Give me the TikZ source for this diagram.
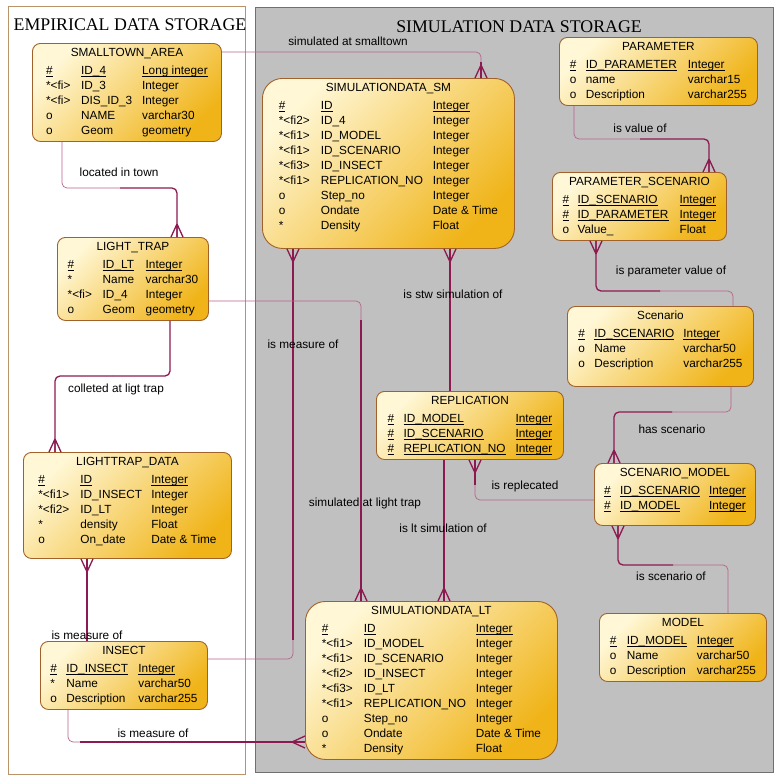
\documentclass[tikz,border=0pt]{standalone}
\usepackage{fontspec}
\setmainfont{Liberation Sans}
\newfontfamily\titlefont{Liberation Serif}
\usepackage{array}
\usetikzlibrary{calc}

\newcolumntype{P}[1]{>{\raggedright\arraybackslash}p{#1}}
\newcommand{\pk}[1]{\underline{\smash{#1}}}
\newcommand{\crowfoot}[2]{%
  \begin{scope}[shift={#1}, rotate=#2]
    \draw[manyline, sharp corners] (-13,0) -- (0,6) (-13,0) -- (0,0) (-13,0) -- (0,-6);
  \end{scope}}

\definecolor{entlight}{HTML}{FFF7D6}
\definecolor{entdark}{HTML}{F0B419}
\definecolor{entedge}{HTML}{A0622A}
\definecolor{reldark}{HTML}{8C1A50}
\definecolor{rellight}{HTML}{B8628C}
\definecolor{simgray}{HTML}{C0C0C0}
\definecolor{simedge}{HTML}{707070}
\definecolor{empedge}{HTML}{B8946C}

\tikzset{
  entity/.style={draw=entedge, line width=0.9pt, rounded corners=8pt,
    top color=entlight, bottom color=entdark, shading angle=45,
    anchor=north west, inner xsep=0pt, inner ysep=2.5pt,
    font=\fontsize{11.8}{15}\selectfont},
  bigentity/.style={entity, rounded corners=20pt},
  oneline/.style={draw=rellight, line width=0.7pt, rounded corners=5pt},
  manyline/.style={draw=reldark, line width=1.3pt, rounded corners=5pt},
  rellabel/.style={font=\fontsize{11.8}{14}\selectfont, inner sep=1pt},
  areatitle/.style={font=\titlefont\fontsize{17.8}{20}\selectfont, inner sep=0pt}
}

\begin{document}
\begin{tikzpicture}[x=1pt, y=-1pt]
  \useasboundingbox (0,0) rectangle (775,780);

  % storage areas
  \draw[empedge, fill=white] (8,6) rectangle (245,774);
  \draw[simedge, fill=simgray] (255,7) rectangle (773,772);
  \node[areatitle] (emptitle) at (130,25) {EMPIRICAL DATA STORAGE};
  \node[areatitle] (simtitle) at (519,27) {SIMULATION DATA STORAGE};

  % empirical tables
  \node[entity, minimum width=189] (smalltown) at (32,43) {%
    \begin{tabular}{@{}P{35pt}@{}P{61pt}@{}l@{}}
      \multicolumn{3}{c}{SMALLTOWN\_AREA}\\[3pt]
      \pk{\#} & \pk{ID\_4} & \pk{Long integer}\\
      {*}<fi> & ID\_3 & Integer\\
      {*}<fi> & DIS\_ID\_3 & Integer\\
      o & NAME & varchar30\\
      o & Geom & geometry
    \end{tabular}};
  \node[entity, minimum width=151] (lighttrap) at (57,237) {%
    \begin{tabular}{@{}P{35pt}@{}P{43pt}@{}l@{}}
      \multicolumn{3}{c}{LIGHT\_TRAP}\\[3pt]
      \pk{\#} & \pk{ID\_LT} & \pk{Integer}\\
      {*} & Name & varchar30\\
      {*}<fi> & ID\_4 & Integer\\
      o & Geom & geometry
    \end{tabular}};
  \node[entity, minimum width=208] (lighttrapdata) at (23,452) {%
    \begin{tabular}{@{}P{42pt}@{}P{71pt}@{}l@{}}
      \multicolumn{3}{c}{LIGHTTRAP\_DATA}\\[3pt]
      \pk{\#} & \pk{ID} & \pk{Integer}\\
      {*}<fi1> & ID\_INSECT & Integer\\
      {*}<fi2> & ID\_LT & Integer\\
      {*} & density & Float\\
      o & On\_date & Date \& Time\\[8pt]
    \end{tabular}};
  \node[entity, minimum width=167] (insect) at (40,641) {%
    \begin{tabular}{@{}P{16pt}@{}P{72pt}@{}l@{}}
      \multicolumn{3}{c}{INSECT}\\[3pt]
      \pk{\#} & \pk{ID\_INSECT} & \pk{Integer}\\
      {*} & Name & varchar50\\
      o & Description & varchar255
    \end{tabular}};

  % simulation tables
  \node[bigentity, minimum width=252] (simsm) at (262,78) {%
    \begin{tabular}{@{}P{42pt}@{}P{112pt}@{}l@{}}
      \multicolumn{3}{c}{SIMULATIONDATA\_SM}\\[3pt]
      \pk{\#} & \pk{ID} & \pk{Integer}\\
      {*}<fi2> & ID\_4 & Integer\\
      {*}<fi1> & ID\_MODEL & Integer\\
      {*}<fi1> & ID\_SCENARIO & Integer\\
      {*}<fi3> & ID\_INSECT & Integer\\
      {*}<fi1> & REPLICATION\_NO & Integer\\
      o & Step\_no & Integer\\
      o & Ondate & Date \& Time\\
      {*} & Density & Float\\[12pt]
    \end{tabular}};
  \node[entity, minimum width=198] (parameter) at (559,37) {%
    \begin{tabular}{@{}P{16pt}@{}P{102pt}@{}l@{}}
      \multicolumn{3}{c}{PARAMETER}\\[3pt]
      \pk{\#} & \pk{ID\_PARAMETER} & \pk{Integer}\\
      o & name & varchar15\\
      o & Description & varchar255
    \end{tabular}};
  \node[entity, minimum width=174] (paramscen) at (552,172) {%
    \begin{tabular}{@{}P{15pt}@{}P{102pt}@{}l@{}}
      \multicolumn{3}{c}{PARAMETER\_SCENARIO}\\[3pt]
      \pk{\#} & \pk{ID\_SCENARIO} & \pk{Integer}\\
      \pk{\#} & \pk{ID\_PARAMETER} & \pk{Integer}\\
      o & Value\_ & Float
    \end{tabular}};
  \node[entity, minimum width=186] (scenario) at (567,306) {%
    \begin{tabular}{@{}P{16pt}@{}P{89pt}@{}l@{}}
      \multicolumn{3}{c}{Scenario}\\[3pt]
      \pk{\#} & \pk{ID\_SCENARIO} & \pk{Integer}\\
      o & Name & varchar50\\
      o & Description & varchar255\\[12pt]
    \end{tabular}};
  \node[entity, minimum width=187] (replication) at (376,391) {%
    \begin{tabular}{@{}P{16pt}@{}P{112pt}@{}l@{}}
      \multicolumn{3}{c}{REPLICATION}\\[3pt]
      \pk{\#} & \pk{ID\_MODEL} & \pk{Integer}\\
      \pk{\#} & \pk{ID\_SCENARIO} & \pk{Integer}\\
      \pk{\#} & \pk{REPLICATION\_NO} & \pk{Integer}
    \end{tabular}};
  \node[entity, minimum width=161] (scenmodel) at (594,463) {%
    \begin{tabular}{@{}P{16pt}@{}P{89pt}@{}l@{}}
      \multicolumn{3}{c}{SCENARIO\_MODEL}\\[3pt]
      \pk{\#} & \pk{ID\_SCENARIO} & \pk{Integer}\\
      \pk{\#} & \pk{ID\_MODEL} & \pk{Integer}\\[9pt]
    \end{tabular}};
  \node[entity, minimum width=167] (model) at (599,613) {%
    \begin{tabular}{@{}P{17pt}@{}P{70pt}@{}l@{}}
      \multicolumn{3}{c}{MODEL}\\[3pt]
      \pk{\#} & \pk{ID\_MODEL} & \pk{Integer}\\
      o & Name & varchar50\\
      o & Description & varchar255
    \end{tabular}};
  \node[bigentity, minimum width=252] (simlt) at (305,601) {%
    \begin{tabular}{@{}P{42pt}@{}P{112pt}@{}l@{}}
      \multicolumn{3}{c}{SIMULATIONDATA\_LT}\\[3pt]
      \pk{\#} & \pk{ID} & \pk{Integer}\\
      {*}<fi1> & ID\_MODEL & Integer\\
      {*}<fi1> & ID\_SCENARIO & Integer\\
      {*}<fi2> & ID\_INSECT & Integer\\
      {*}<fi3> & ID\_LT & Integer\\
      {*}<fi1> & REPLICATION\_NO & Integer\\
      o & Step\_no & Integer\\
      o & Ondate & Date \& Time\\
      {*} & Density & Float
    \end{tabular}};

  % located in town
  \coordinate (c1) at (120,188);
  \draw[oneline] ([xshift=30]smalltown.south west) |- (c1);
  \draw[manyline] (c1) -| ([xshift=120]lighttrap.north west);
  \crowfoot{([xshift=120]lighttrap.north west)}{-90}

  % colleted at ligt trap
  \coordinate (c2) at (112,376);
  \draw[manyline] ([xshift=113]lighttrap.south west) |- (c2);
  \draw[manyline] (c2) -| ([xshift=32]lighttrapdata.north west);
  \crowfoot{([xshift=32]lighttrapdata.north west)}{-90}

  % simulated at smalltown
  \coordinate (c3) at (481,62);
  \draw[oneline] ([yshift=-9]smalltown.north east) -| (c3);
  \draw[manyline] (c3) -- ([xshift=219]simsm.north west);
  \crowfoot{([xshift=219]simsm.north west)}{-90}

  % is value of
  \coordinate (c4) at (640,139);
  \draw[oneline] ([xshift=15]parameter.south west) |- (c4);
  \draw[manyline] (c4) -| ([xshift=157]paramscen.north west);
  \crowfoot{([xshift=157]paramscen.north west)}{-90}

  % is parameter value of
  \coordinate (c5) at (660,291);
  \draw[oneline] ([xshift=166]scenario.north west) |- (c5);
  \draw[manyline] (c5) -| ([xshift=44]paramscen.south west);
  \crowfoot{([xshift=44]paramscen.south west)}{90}

  % has scenario
  \coordinate (c6) at (672,412);
  \draw[oneline] ([xshift=164]scenario.south west) |- (c6);
  \draw[manyline] (c6) -| ([xshift=20]scenmodel.north west);
  \crowfoot{([xshift=20]scenmodel.north west)}{-90}

  % is scenario of
  \coordinate (c7) at (673,565);
  \draw[oneline] ([xshift=129]model.north west) |- (c7);
  \draw[manyline] (c7) -| ([xshift=24]scenmodel.south west);
  \crowfoot{([xshift=24]scenmodel.south west)}{90}

  % is replecated
  \coordinate (c8) at (475,485);
  \draw[oneline] ([yshift=-37]scenmodel.north west) -| (c8);
  \draw[manyline] (c8) -- ([xshift=99]replication.south west);
  \crowfoot{([xshift=99]replication.south west)}{90}

  % is stw / lt simulation of
  \draw[manyline] ([xshift=74]replication.north west) -- ([xshift=188]simsm.south west);
  \crowfoot{([xshift=188]simsm.south west)}{90}
  \draw[manyline] ([xshift=68]replication.south west) -- ([xshift=139]simlt.north west);
  \crowfoot{([xshift=139]simlt.north west)}{-90}

  % is measure of (sm)
  \coordinate (c9) at (293,640);
  \draw[oneline] ([yshift=-18]insect.north east) -| (c9);
  \draw[manyline] (c9) -- ([xshift=31]simsm.south west);
  \crowfoot{([xshift=31]simsm.south west)}{90}

  % simulated at light trap
  \coordinate (c10) at (361,320);
  \draw[oneline] ([yshift=-64]lighttrap.north east) -| (c10);
  \draw[manyline] (c10) -- ([xshift=56]simlt.north west);
  \crowfoot{([xshift=56]simlt.north west)}{-90}

  % is measure of (light trap data, lt)
  \draw[manyline] ([xshift=47]insect.north west) -- ([xshift=64]lighttrapdata.south west);
  \crowfoot{([xshift=64]lighttrapdata.south west)}{90}
  \coordinate (c11) at (80,742);
  \draw[oneline] ([xshift=28]insect.south west) |- (c11);
  \draw[manyline] (c11) -- ([yshift=-141]simlt.north west);
  \crowfoot{([yshift=-141]simlt.north west)}{0}

  % relation names
  \node[rellabel] (lbltown) at (119,172) {located in town};
  \node[rellabel] (lbltrap) at (116,389) {colleted at ligt trap};
  \node[rellabel] (lblsmall) at (348,41) {simulated at smalltown};
  \node[rellabel] (lblvalue) at (640,128) {is value of};
  \node[rellabel] (lblparam) at (671,271) {is parameter value of};
  \node[rellabel] (lblhas) at (672,429) {has scenario};
  \node[rellabel] (lblscen) at (671,576) {is scenario of};
  \node[rellabel] (lblrepl) at (525,486) {is replecated};
  \node[rellabel] (lblstw) at (453,294) {is stw simulation of};
  \node[rellabel] (lblmeassm) at (303,344) {is measure of};
  \node[rellabel] (lblltrap) at (365,503) {simulated at light trap};
  \node[rellabel] (lbllt) at (443,528) {is lt simulation of};
  \node[rellabel] (lblmeasltd) at (87,635) {is measure of};
  \node[rellabel] (lblmeaslt) at (153,733) {is measure of};
\end{tikzpicture}
\end{document}
